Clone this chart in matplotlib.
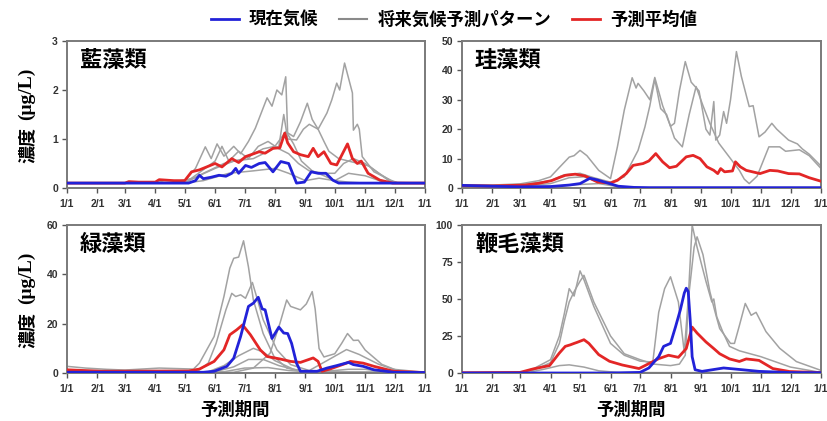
import numpy as np
import matplotlib
matplotlib.use("Agg")
import matplotlib.pyplot as plt
from matplotlib.lines import Line2D
from matplotlib.font_manager import FontProperties

plt.rcParams["font.family"] = ["Liberation Sans", "Noto Sans CJK JP"]

JP = "Noto Sans CJK JP"

# month starts (non-leap year), used for ticks and date parsing
MONTH_START = np.cumsum([0, 31, 28, 31, 30, 31, 30, 31, 31, 30, 31, 30, 31])
tick_labels = ["1/1", "2/1", "3/1", "4/1", "5/1", "6/1", "7/1", "8/1",
               "9/1", "10/1", "11/1", "12/1", "1/1"]

panel_names = ["藍藻類", "珪藻類", "緑藻類", "鞭毛藻類"]
panel_ymax = [3, 50, 60, 100]
panel_yticks = [[0, 1, 2, 3], [0, 10, 20, 30, 40, 50], [0, 20, 40, 60],
                [0, 25, 50, 75, 100]]

legend_labels = ["現在気候", "将来気候予測パターン", "予測平均値"]

# ---- 藍藻類 -------------------------------------------------------------
cyano_now = [("1/1", 0.1), ("5/5", 0.1), ("5/12", 0.15), ("5/16", 0.26), ("5/20", 0.19),
             ("5/28", 0.22), ("6/5", 0.26), ("6/12", 0.24), ("6/18", 0.3), ("6/22", 0.4),
             ("6/25", 0.3), ("7/2", 0.46), ("7/8", 0.42), ("7/16", 0.5), ("7/22", 0.52),
             ("7/30", 0.33), ("8/7", 0.54), ("8/15", 0.5), ("8/19", 0.3), ("8/23", 0.1),
             ("8/31", 0.12), ("9/7", 0.33), ("9/14", 0.3), ("9/22", 0.3), ("9/29", 0.16),
             ("10/5", 0.1), ("12/31", 0.1)]
cyano_mean = [("1/1", 0.1), ("3/1", 0.1), ("3/5", 0.13), ("3/15", 0.12), ("4/1", 0.12),
              ("4/5", 0.17), ("4/20", 0.15), ("5/1", 0.15), ("5/8", 0.33), ("5/16", 0.37),
              ("6/1", 0.5), ("6/8", 0.43), ("6/18", 0.6), ("6/25", 0.52), ("7/2", 0.64),
              ("7/16", 0.74), ("7/22", 0.71), ("7/30", 0.81), ("8/6", 0.82), ("8/11", 1.12),
              ("8/14", 0.92), ("8/20", 0.74), ("8/27", 0.68), ("9/4", 0.64), ("9/9", 0.81),
              ("9/14", 0.64), ("9/20", 0.74), ("9/27", 0.5), ("10/3", 0.47), ("10/14", 0.9),
              ("10/19", 0.6), ("10/24", 0.5), ("10/28", 0.55), ("11/4", 0.3), ("11/16", 0.16),
              ("11/29", 0.1), ("12/31", 0.1)]
cyano_fut1 = [("1/1", 0.1), ("4/1", 0.1), ("4/10", 0.15), ("5/1", 0.15), ("5/12", 0.4),
              ("5/22", 0.84), ("5/28", 0.6), ("6/3", 0.9), ("6/10", 0.65), ("6/20", 0.85),
              ("6/27", 0.7), ("7/5", 0.95), ("7/12", 1.22), ("7/24", 1.84), ("7/29", 1.67),
              ("8/3", 2.0), ("8/8", 1.9), ("8/12", 2.27), ("8/14", 1.1), ("8/20", 0.9),
              ("8/28", 0.55), ("9/8", 0.35), ("9/20", 0.25), ("10/1", 0.15), ("10/15", 0.12),
              ("11/1", 0.1), ("12/31", 0.1)]
cyano_fut2 = [("1/1", 0.1), ("4/15", 0.1), ("5/10", 0.2), ("6/1", 0.4), ("6/20", 0.55),
              ("7/10", 0.6), ("7/25", 0.75), ("8/5", 0.85), ("8/10", 1.5), ("8/14", 1.0),
              ("8/23", 0.98), ("8/30", 1.2), ("9/5", 1.3), ("9/14", 1.2), ("9/23", 1.53),
              ("9/28", 1.8), ("10/3", 2.14), ("10/6", 2.0), ("10/11", 2.55), ("10/19", 1.94),
              ("10/20", 1.18), ("10/24", 1.3), ("10/26", 1.2), ("10/29", 0.64),
              ("11/10", 0.33), ("11/27", 0.16), ("12/5", 0.1), ("12/31", 0.1)]
cyano_fut3 = [("1/1", 0.1), ("5/1", 0.1), ("5/20", 0.3), ("6/10", 0.5), ("7/1", 0.6),
              ("7/20", 0.8), ("8/1", 0.85), ("8/12", 1.15), ("8/20", 1.05), ("8/27", 1.35),
              ("9/3", 1.73), ("9/8", 1.4), ("9/14", 1.2), ("9/20", 0.95), ("9/25", 0.75),
              ("10/5", 0.6), ("10/15", 0.55), ("10/25", 0.5), ("11/5", 0.45), ("11/15", 0.3),
              ("11/25", 0.15), ("12/5", 0.1), ("12/31", 0.1)]
cyano_fut4 = [("1/1", 0.1), ("5/1", 0.1), ("5/15", 0.3), ("6/1", 0.55), ("6/8", 0.85),
              ("6/15", 0.55), ("6/25", 0.75), ("7/5", 0.6), ("7/15", 0.85), ("7/25", 0.95),
              ("8/5", 0.8), ("8/15", 0.7), ("8/25", 0.5), ("9/5", 0.35), ("9/20", 0.3),
              ("10/1", 0.3), ("10/10", 0.5), ("10/20", 0.6), ("11/1", 0.5), ("11/15", 0.3),
              ("12/1", 0.1), ("12/31", 0.1)]
cyano_fut5 = [("1/1", 0.1), ("5/1", 0.1), ("5/20", 0.15), ("6/15", 0.3), ("7/10", 0.35),
              ("8/1", 0.4), ("8/15", 0.3), ("9/1", 0.15), ("9/15", 0.2), ("10/1", 0.15),
              ("10/15", 0.3), ("11/1", 0.25), ("11/20", 0.12), ("12/31", 0.1)]

# ---- 珪藻類 -------------------------------------------------------------
diatom_now = [("1/1", 0.9), ("2/1", 0.6), ("3/1", 0.4), ("4/1", 0.5), ("4/20", 1.0),
              ("5/1", 1.5), ("5/11", 3.3), ("5/18", 2.8), ("5/26", 2.0), ("6/9", 0.6),
              ("6/25", 0.2), ("7/10", 0.1), ("12/31", 0.1)]
diatom_mean = [("1/1", 0.8), ("2/1", 0.7), ("3/6", 1.0), ("3/20", 1.6), ("4/2", 2.5),
               ("4/11", 3.7), ("4/16", 4.3), ("4/26", 4.7), ("5/6", 4.1), ("5/19", 2.0),
               ("6/1", 1.7), ("6/8", 2.6), ("6/17", 4.9), ("6/24", 7.7), ("7/4", 8.3),
               ("7/10", 9.2), ("7/17", 11.7), ("7/24", 8.9), ("7/31", 6.9), ("8/7", 7.4),
               ("8/17", 10.6), ("8/24", 11.1), ("8/31", 10.0), ("9/7", 7.2), ("9/14", 6.0),
               ("9/18", 4.9), ("9/21", 6.6), ("9/25", 5.5), ("10/3", 5.8), ("10/6", 8.9),
               ("10/11", 7.2), ("10/17", 6.0), ("10/31", 4.9), ("11/10", 6.0), ("11/18", 5.8),
               ("11/29", 4.9), ("12/10", 4.8), ("12/20", 3.5), ("12/31", 2.4)]
diatom_fut1 = [("1/1", 1.0), ("2/1", 1.0), ("3/1", 1.4), ("3/20", 2.5), ("4/1", 3.8),
               ("4/10", 7), ("4/20", 10.5), ("4/25", 11), ("5/1", 12.8), ("5/8", 11),
               ("5/20", 6), ("6/1", 3.2), ("6/8", 14), ("6/15", 26.5), ("6/23", 37.5),
               ("6/27", 34), ("6/29", 35.6), ("7/5", 33), ("7/11", 30), ("7/16", 37.6),
               ("7/24", 28), ("8/1", 21), ("8/5", 22), ("8/10", 33), ("8/16", 43),
               ("8/22", 36), ("8/30", 33), ("9/6", 20), ("9/10", 18), ("9/14", 29.4),
               ("9/16", 16.3), ("9/20", 18), ("9/24", 26), ("9/27", 22), ("10/1", 30),
               ("10/7", 46.4), ("10/12", 38), ("10/20", 27.7), ("10/24", 28), ("10/30", 17.4),
               ("11/5", 19), ("11/12", 22), ("11/17", 20), ("11/29", 16.3), ("12/8", 15),
               ("12/13", 13.3), ("12/20", 11.5), ("12/31", 7.8)]
diatom_fut2 = [("1/1", 0.8), ("3/1", 1.0), ("4/1", 2.5), ("4/15", 4.5), ("5/1", 5),
               ("5/15", 3.5), ("6/1", 2), ("6/15", 3.8), ("6/29", 12.8), ("7/6", 20.8),
               ("7/11", 28), ("7/16", 37), ("7/22", 27), ("7/28", 25), ("8/5", 17),
               ("8/13", 14), ("8/20", 25), ("8/27", 34.5), ("9/3", 28), ("9/10", 22),
               ("9/19", 15.3), ("10/1", 10), ("10/10", 6), ("10/15", 3), ("10/20", 1.5),
               ("10/28", 4), ("11/9", 14), ("11/20", 14), ("11/26", 12.5), ("12/10", 13),
               ("12/20", 11), ("12/31", 7)]
diatom_fut3 = [("1/1", 0.5), ("3/1", 0.6), ("4/1", 1.5), ("4/20", 3.5), ("5/5", 3.8),
               ("5/20", 2.0), ("6/10", 0.5), ("7/1", 0.2), ("12/31", 0.2)]
diatom_fut4 = [("1/1", 0.3), ("4/1", 0.5), ("5/1", 1.2), ("5/20", 1.5), ("6/10", 0.4),
               ("7/1", 0.1), ("12/31", 0.1)]

# ---- 緑藻類 -------------------------------------------------------------
green_now = [("1/1", 0.3), ("5/20", 0.3), ("5/31", 0.7), ("6/13", 2.7), ("6/20", 6),
             ("6/27", 14.8), ("7/5", 27), ("7/10", 28.3), ("7/15", 30.7), ("7/19", 26),
             ("7/22", 25.6), ("7/29", 14), ("8/5", 18.6), ("8/10", 16.2), ("8/14", 16),
             ("8/18", 12), ("8/23", 4), ("8/27", 0.7), ("9/13", 0.7), ("9/23", 2),
             ("10/3", 3), ("10/15", 4.3), ("10/20", 3.4), ("10/30", 2.7), ("11/10", 1.3),
             ("11/30", 0.3), ("12/31", 0.2)]
green_mean = [("1/1", 1.3), ("2/5", 0.7), ("5/5", 0.8), ("5/16", 1.6), ("5/31", 4.7),
              ("6/10", 9.4), ("6/16", 15.5), ("6/23", 17.5), ("6/29", 19.5), ("7/7", 15.5),
              ("7/17", 9.4), ("7/24", 6.7), ("8/6", 5.7), ("8/17", 4.7), ("8/27", 4.3),
              ("9/9", 6.1), ("9/14", 4.7), ("9/18", 0.7), ("9/26", 1.6), ("10/13", 4),
              ("10/17", 4.7), ("10/30", 4), ("11/10", 2.7), ("11/30", 0.7), ("12/31", 0.2)]
green_fut1 = [("1/1", 2.7), ("1/20", 2.0), ("2/10", 1.5), ("3/1", 1.2), ("4/5", 2.0),
              ("5/10", 1.6), ("5/16", 4), ("5/31", 14.8), ("6/10", 31), ("6/16", 42.5),
              ("6/20", 46.5), ("6/25", 47), ("6/30", 53.6), ("7/5", 43), ("7/10", 29.6),
              ("7/20", 16), ("7/31", 6.7), ("8/13", 2), ("8/31", 0.5), ("12/31", 0.3)]
green_fut2 = [("1/1", 1.0), ("5/15", 1.0), ("5/25", 4), ("6/2", 12), ("6/12", 25.6),
              ("6/18", 32.3), ("6/22", 31), ("6/27", 31.7), ("7/2", 30.3), ("7/9", 36.7),
              ("7/14", 30), ("7/20", 21.6), ("8/3", 9.4), ("8/17", 3.4), ("9/5", 1.0),
              ("9/23", 5), ("10/13", 9.5), ("10/26", 7.5), ("11/15", 3.5), ("11/30", 1.5),
              ("12/31", 0.3)]
green_fut3 = [("1/1", 0.3), ("6/20", 0.3), ("7/10", 2), ("7/27", 8), ("8/6", 20),
              ("8/13", 29.6), ("8/17", 27), ("8/27", 25.6), ("9/2", 28), ("9/8", 33),
              ("9/11", 26), ("9/15", 9.9), ("9/20", 6.5), ("10/1", 7.8), ("10/8", 12),
              ("10/14", 16), ("10/20", 13.2), ("10/25", 13.3), ("11/1", 9.3), ("11/18", 3.5),
              ("12/5", 0.8), ("12/31", 0.3)]
green_fut4 = [("1/1", 0.3), ("5/25", 0.5), ("6/10", 3), ("6/25", 7), ("7/10", 10),
              ("7/20", 8.5), ("8/1", 5), ("8/20", 1.5), ("9/10", 0.3), ("12/31", 0.2)]
green_fut5 = [("1/1", 0.2), ("6/1", 0.5), ("6/20", 2.5), ("7/5", 5.5), ("7/20", 5.5),
              ("8/5", 3), ("8/25", 1), ("9/20", 0.3), ("12/31", 0.2)]
green_fut6 = [("1/1", 0.2), ("6/10", 0.5), ("7/1", 2), ("7/25", 2.2), ("8/15", 1.0),
              ("9/10", 0.3), ("10/15", 1.5), ("11/1", 1.5), ("11/20", 0.5), ("12/31", 0.2)]

# ---- 鞭毛藻類 -----------------------------------------------------------
flag_now = [("1/1", 0), ("6/1", 0), ("7/1", 0.4), ("7/10", 3.4), ("7/20", 11), ("7/25", 18),
            ("8/1", 20), ("8/6", 31), ("8/11", 42.7), ("8/15", 54), ("8/17", 57.3),
            ("8/19", 55), ("8/21", 36), ("8/23", 11), ("8/26", 2.2), ("9/2", 1.1),
            ("9/24", 3.4), ("10/13", 2.2), ("10/30", 1.1), ("12/1", 0.3), ("12/31", 0.2)]
flag_mean = [("1/1", 0.2), ("3/1", 0.4), ("3/14", 2.7), ("3/31", 5), ("4/10", 13.5),
             ("4/16", 18), ("4/21", 19), ("4/25", 20), ("4/28", 20.7), ("5/5", 22.5),
             ("5/10", 20), ("5/20", 12.4), ("5/31", 7.9), ("6/13", 5.4), ("6/30", 3),
             ("7/20", 9.7), ("7/30", 12), ("8/9", 10.6), ("8/17", 16.5), ("8/23", 31),
             ("8/28", 27), ("9/6", 21), ("9/14", 16.5), ("9/20", 13), ("9/30", 9.5),
             ("10/10", 7.8), ("10/17", 9.5), ("10/24", 9), ("10/30", 8.5), ("11/13", 3),
             ("11/30", 1), ("12/31", 0.3)]
flag_fut1 = [("1/1", 0), ("3/1", 0.2), ("3/15", 3), ("4/1", 9), ("4/10", 25), ("4/15", 40),
             ("4/20", 57), ("4/25", 52), ("5/1", 69), ("5/5", 63), ("5/15", 45), ("6/1", 20),
             ("6/15", 12), ("7/1", 8), ("7/14", 7.4), ("7/20", 41), ("7/26", 57),
             ("8/1", 65), ("8/9", 48), ("8/15", 14), ("8/19", 50), ("8/23", 100),
             ("8/28", 85), ("9/6", 62), ("9/12", 48), ("9/14", 50), ("9/17", 38),
             ("9/23", 28), ("9/30", 18), ("10/10", 15), ("11/1", 11), ("12/1", 4),
             ("12/31", 0.5)]
flag_fut2 = [("1/1", 0), ("3/1", 0.2), ("3/15", 2), ("4/1", 7), ("4/10", 20), ("4/15", 35),
             ("4/20", 48), ("4/25", 55), ("5/1", 62), ("5/5", 66), ("5/15", 48),
             ("6/1", 25), ("6/15", 13), ("7/1", 9), ("7/15", 6), ("8/1", 5), ("8/10", 6),
             ("8/16", 12), ("8/20", 55), ("8/25", 85), ("8/28", 92), ("9/3", 80),
             ("9/10", 55), ("9/15", 42), ("9/20", 30), ("10/1", 20), ("10/5", 20),
             ("10/10", 32), ("10/16", 47), ("10/22", 39), ("10/27", 41), ("11/6", 28),
             ("11/20", 16.7), ("12/7", 7.7), ("12/31", 2)]
flag_fut3 = [("1/1", 0), ("3/10", 0.5), ("3/25", 2.5), ("4/10", 5), ("4/20", 5.5),
             ("5/5", 4), ("5/20", 1.5), ("6/10", 0.3), ("12/31", 0.2)]

panels = [
    (cyano_now, cyano_mean, [cyano_fut1, cyano_fut2, cyano_fut3, cyano_fut4, cyano_fut5]),
    (diatom_now, diatom_mean, [diatom_fut1, diatom_fut2, diatom_fut3, diatom_fut4]),
    (green_now, green_mean, [green_fut1, green_fut2, green_fut3, green_fut4, green_fut5,
                             green_fut6]),
    (flag_now, flag_mean, [flag_fut1, flag_fut2, flag_fut3]),
]

C_NOW = "#2222d8"
C_FUT = "#a2a2a2"
C_MEAN = "#e32626"


def doy(md):
    m, d = md.split("/")
    return MONTH_START[int(m) - 1] + int(d) - 1


def unpack(series):
    return [doy(p[0]) for p in series], [p[1] for p in series]


fig = plt.figure(figsize=(8.27, 4.21), dpi=100)
W, H = 827, 421
boxes = [(67, 41, 425, 188), (462, 41, 821, 188),
         (67, 225, 425, 373), (462, 225, 821, 373)]

for i, (now, mean, futures) in enumerate(panels):
    x0, y0, x1, y1 = boxes[i]
    ax = fig.add_axes([x0 / W, 1 - y1 / H, (x1 - x0) / W, (y1 - y0) / H])

    for s in futures:
        ax.plot(*unpack(s), color=C_FUT, lw=1.1, zorder=2)
    ax.plot(*unpack(mean), color=C_MEAN, lw=2.0, zorder=3)
    ax.plot(*unpack(now), color=C_NOW, lw=2.0, zorder=4)

    ax.set_xlim(0, 365)
    ax.set_ylim(0, panel_ymax[i])
    ax.set_xticks(MONTH_START)
    ax.set_xticklabels(tick_labels)
    ax.set_yticks(panel_yticks[i])
    ax.tick_params(direction="out", length=3.5, width=1.0, color="#555555",
                   labelsize=7.5, labelcolor="#333333", pad=3)
    ax.tick_params(axis="x", pad=4.5)
    for lbl in ax.get_xticklabels() + ax.get_yticklabels():
        lbl.set_fontweight("bold")
    for sp in ax.spines.values():
        sp.set_color("#7a7a7a")
        sp.set_linewidth(1.4)

    ax.text(0.036, 0.87, panel_names[i], transform=ax.transAxes, ha="left",
            va="center", fontsize=16, fontweight="bold", family=JP)

    if i % 2 == 0:
        # y label in two parts: Japanese word, then the unit in serif
        ax.text(-0.112, 0.17, "濃度", transform=ax.transAxes, rotation=90,
                ha="center", va="bottom", fontsize=13, fontweight="bold", family=JP)
        ax.text(-0.112, 0.64, "(μg/L)", transform=ax.transAxes, rotation=90,
                ha="center", va="center", fontsize=14, fontweight="bold",
                family="Liberation Serif")
    if i >= 2:
        ax.text(0.47, -0.25, "予測期間", transform=ax.transAxes, ha="center",
                va="center", fontsize=12.5, fontweight="bold", family=JP)

handles = [Line2D([], [], color=C_NOW, lw=2.0),
           Line2D([], [], color="#8a8a8a", lw=1.5),
           Line2D([], [], color=C_MEAN, lw=2.0)]
fig.legend(handles, legend_labels, loc="center", bbox_to_anchor=(0.549, 0.952),
           ncol=3, frameon=False, handlelength=1.6, handletextpad=0.6,
           columnspacing=1.2,
           prop=FontProperties(family=JP, weight="bold", size=12.5))

fig.savefig("out.png", dpi=100)
